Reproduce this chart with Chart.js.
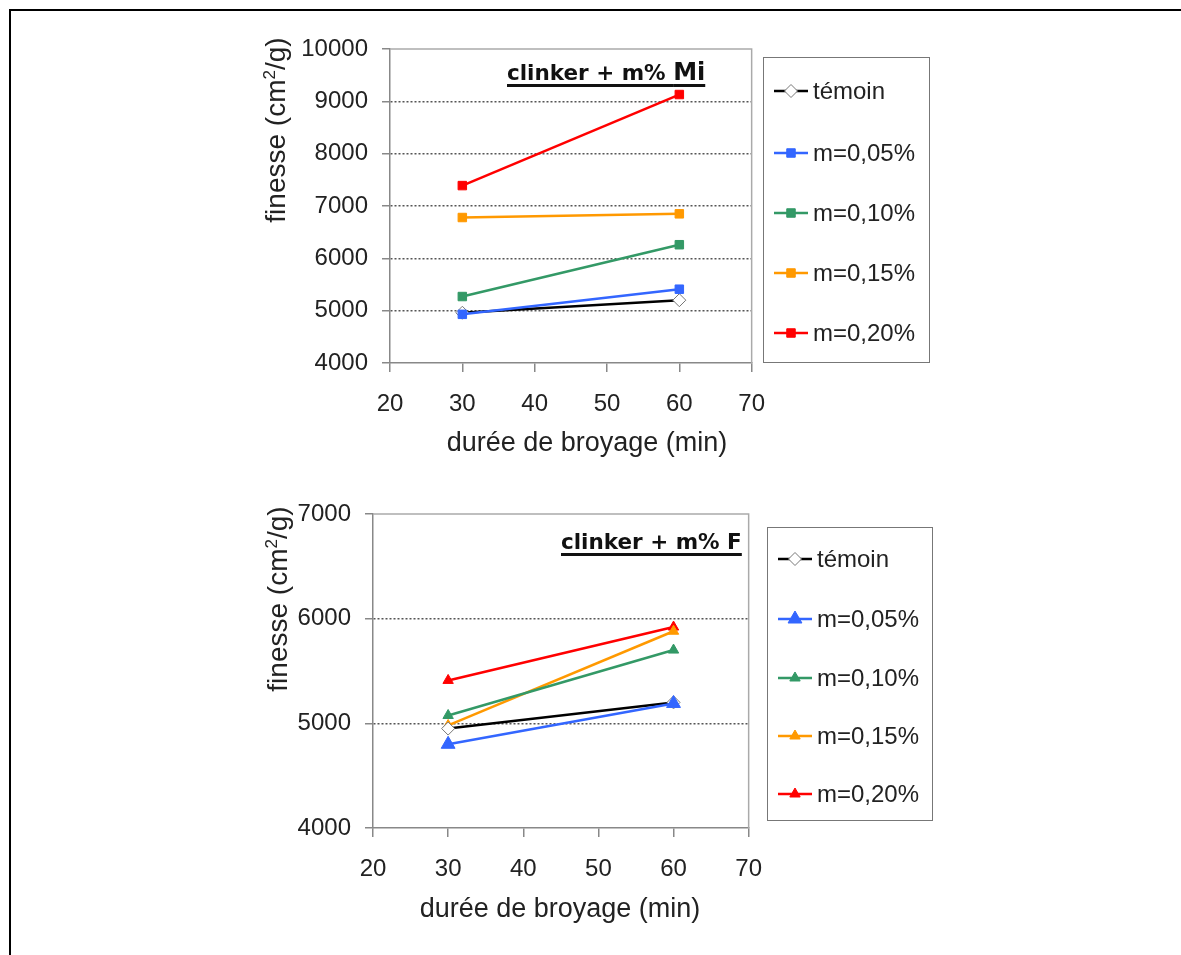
<!DOCTYPE html>
<html>
<head>
<meta charset="utf-8">
<script src="https://cdn.jsdelivr.net/npm/chart.js@4.4.0/dist/chart.umd.min.js"></script>
<style>
body{margin:0;width:1181px;height:955px;overflow:hidden;background:#fff;font-family:"Liberation Sans",Arial,sans-serif;color:#222;position:relative}
#frame{position:absolute;left:9px;top:9px;width:1400px;height:1200px;border:2.5px solid #000}
.cv{position:absolute}
.ytitle{position:absolute;width:260px;height:32px;line-height:32px;font-size:28px;text-align:center;transform:rotate(-90deg);white-space:nowrap}
.xtitle{position:absolute;width:340px;height:32px;line-height:32px;font-size:27px;text-align:center;white-space:nowrap}
.ctitle{position:absolute;font-family:"DejaVu Sans",sans-serif;font-weight:bold;font-size:21.5px;line-height:24px;white-space:nowrap;text-decoration:underline;text-decoration-thickness:2.5px;text-underline-offset:4px;color:#111}
.ctitle .big{font-size:24px}
.legend{position:absolute;border:1.5px solid #777;box-sizing:border-box;background:#fff}
.item{position:absolute;left:10px;height:30px;display:flex;align-items:center;font-size:24px;white-space:nowrap}
.item canvas{margin-right:5px}
</style>
</head>
<body>
<div id="frame"></div>

<canvas id="chartMi" class="cv" width="533" height="460" style="left:250px;top:20px"></canvas>
<div class="ytitle" style="left:140px;top:114px">finesse (cm<sup style="font-size:17px">2</sup>/g)</div>
<div class="xtitle" style="left:417px;top:426px">durée de broyage (min)</div>
<div class="ctitle" style="left:507px;top:60px">clinker + m% <span class="big">Mi</span></div>
<div id="legendMi" class="legend" style="left:763px;top:57px;width:167px;height:306px"></div>

<canvas id="chartF" class="cv" width="547" height="460" style="left:233px;top:485px"></canvas>
<div class="ytitle" style="left:142px;top:583px">finesse (cm<sup style="font-size:17px">2</sup>/g)</div>
<div class="xtitle" style="left:390px;top:892px">durée de broyage (min)</div>
<div class="ctitle" style="left:561px;top:530px">clinker + m% F</div>
<div id="legendF" class="legend" style="left:767px;top:527px;width:166px;height:294px"></div>

<script>
// durée de broyage (min)
var durees = [30, 60];
var xTicks = [20, 30, 40, 50, 60, 70];

var series = ['témoin', 'm=0,05%', 'm=0,10%', 'm=0,15%', 'm=0,20%'];
var couleurs = ['#000000', '#3366ff', '#339966', '#ff9900', '#ff0000'];
//drawing order, lowest is on top
var ordre = [1, 0, 2, 3, 4];

// clinker + m% Mi  (finesse cm2/g)
var temoinMi = [4960, 5200];
var mi005 = [4930, 5410];
var mi010 = [5270, 6260];
var mi015 = [6780, 6850];
var mi020 = [7390, 9130];
var yTicksMi = [4000, 5000, 6000, 7000, 8000, 9000, 10000];

// clinker + m% F
var temoinF = [4950, 5200];
var f005 = [4800, 5190];
var f010 = [5075, 5700];
var f015 = [4980, 5880];
var f020 = [5410, 5920];
var yTicksF = [4000, 5000, 6000, 7000];

//top and right edge of the plot area
var cadre = {
	id: 'cadre',
	beforeDatasetsDraw(chart) {
		var ctx = chart.ctx, a = chart.chartArea;
		ctx.save();
		ctx.strokeStyle = '#aaa';
		ctx.lineWidth = 1.5;
		ctx.beginPath();
		ctx.moveTo(a.left, a.top);
		ctx.lineTo(a.right, a.top);
		ctx.lineTo(a.right, a.bottom);
		ctx.stroke();
		ctx.restore();
	}
};

//marker used for each serie
function marker(i, style, radius) {
	if (i == 0) return { pointStyle: 'rectRot', radius: 6.5, fill: '#ffffff', border: '#777777' };
	return { pointStyle: style, radius: radius[i], fill: couleurs[i], border: couleurs[i] };
}

function drawChart(id, values, style, radius, yTicks) {
	var datasets = values.map((v, i) => {
		var m = marker(i, style, radius);
		return {
			label: series[i],
			data: durees.map((d, k) => ({ x: d, y: v[k] })),
			borderColor: couleurs[i],
			borderWidth: 2.5,
			pointStyle: m.pointStyle,
			pointRadius: m.radius,
			pointBackgroundColor: m.fill,
			pointBorderColor: m.border,
			pointBorderWidth: 1,
			order: ordre[i]
		};
	});

	return new Chart(document.getElementById(id), {
		type: 'line',
		data: { datasets: datasets },
		plugins: [cadre],
		options: {
			responsive: false,
			animation: false,
			// right side comes from the last x label + tick padding
			layout: { padding: { left: 0, top: 29, right: 0, bottom: 0 } },
			plugins: { legend: { display: false }, tooltip: { enabled: false } },
			scales: {
				x: {
					type: 'linear',
					min: xTicks[0],
					max: xTicks[xTicks.length - 1],
					ticks: { stepSize: xTicks[1] - xTicks[0], padding: 18, color: '#222', font: { family: 'Liberation Sans', size: 24 } },
					grid: { drawOnChartArea: false, color: '#888', tickLength: 9, lineWidth: 1.5 },
					border: { color: '#888', width: 1.5 },
					afterFit: s => { s.height = 117; }
				},
				y: {
					min: yTicks[0],
					max: yTicks[yTicks.length - 1],
					ticks: { stepSize: yTicks[1] - yTicks[0], padding: 14, color: '#222', font: { family: 'Liberation Sans', size: 24 }, callback: v => String(v) },
					grid: {
						color: c => (c.tick && (c.tick.value == yTicks[0] || c.tick.value == yTicks[yTicks.length - 1])) ? 'rgba(0,0,0,0)' : '#555',
						tickColor: '#888',
						tickLength: 8,
						lineWidth: 1.5,
						tickWidth: 1.5
					},
					border: { color: '#888', width: 1.5, dash: [2, 2] },
					afterFit: s => { s.width = 140; }
				}
			}
		}
	});
}

//legend : one line with the marker for each serie
function drawLegend(id, style, radius, tops) {
	var box = document.getElementById(id);
	series.forEach((name, i) => {
		var m = marker(i, style, radius);
		var item = document.createElement('div');
		item.className = 'item';
		item.style.top = (tops[i] - 15) + 'px';
		var c = document.createElement('canvas');
		c.width = 34; c.height = 30;
		var ctx = c.getContext('2d');
		ctx.strokeStyle = couleurs[i];
		ctx.lineWidth = 2.5;
		ctx.beginPath(); ctx.moveTo(0, 15); ctx.lineTo(34, 15); ctx.stroke();
		ctx.fillStyle = m.fill;
		ctx.strokeStyle = m.border;
		ctx.lineWidth = 1;
		Chart.helpers.drawPoint(ctx, { pointStyle: m.pointStyle, radius: m.radius, borderWidth: 1, rotation: 0 }, 17, 15);
		var t = document.createElement('span');
		t.textContent = name;
		item.appendChild(c);
		item.appendChild(t);
		box.appendChild(item);
	});
}

var radiusMi = [6, 6, 6, 6, 6];
var radiusF = [6, 8, 6, 6, 6];

drawChart('chartMi', [temoinMi, mi005, mi010, mi015, mi020], 'rect', radiusMi, yTicksMi);
drawChart('chartF', [temoinF, f005, f010, f015, f020], 'triangle', radiusF, yTicksF);

drawLegend('legendMi', 'rect', radiusMi, [33, 95, 155, 215, 275]);
drawLegend('legendF', 'triangle', radiusF, [31, 91, 150, 208, 266]);
</script>
</body>
</html>
